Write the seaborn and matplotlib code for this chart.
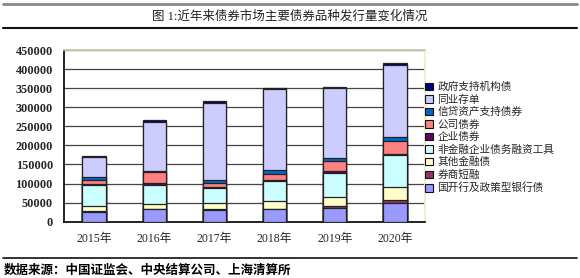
import pandas as pd
import matplotlib.pyplot as plt
import seaborn as sns
import numpy as np
from matplotlib.patches import Patch

years = ["2015年", "2016年", "2017年", "2018年", "2019年", "2020年"]

# bottom to top stacking order
series_names = ["国开行及政策型银行债", "券商短融", "其他金融债", "非金融企业债务融资工具",
                "企业债券", "公司债券", "信贷资产支持债券", "同业存单", "政府支持机构债"]
gkh = [25000, 32500, 30000, 32500, 35000, 48000]
qsdr = [3000, 1500, 2000, 1500, 5000, 10000]
qtjr = [14000, 12000, 16000, 19000, 26000, 33000]
fjr = [54000, 49000, 40000, 55000, 62000, 83000]
qyzq = [3500, 6000, 3500, 2500, 4000, 4500]
gszq = [10000, 28000, 10000, 15000, 26000, 33000]
xdzc = [8000, 4000, 8000, 10000, 10000, 10000]
tycd = [52000, 129000, 202000, 212000, 182000, 190000]
zfzc = [2500, 4500, 4500, 2500, 3500, 5000]
colors = ["#9999FF", "#993366", "#FFFFCC", "#CCFFFF", "#660066",
          "#FF8080", "#0066CC", "#CCCCFF", "#000080"]

values = [gkh, qsdr, qtjr, fjr, qyzq, gszq, xdzc, tycd, zfzc]
df = pd.DataFrame(dict(zip(series_names, values)), index=years)
cum = df.cumsum(axis=1)

sns.set_style("white")
plt.rcParams['font.family'] = ['Liberation Serif', 'Noto Sans CJK SC', 'DejaVu Sans']

fig = plt.figure(figsize=(5.8, 2.78), dpi=100)
ax = fig.add_axes([0.1103, 0.2025, 0.6225, 0.6175])

# stacked bars: draw cumulative totals from the top layer down
for name, color in reversed(list(zip(series_names, colors))):
    sns.barplot(x=years, y=cum[name].values, color=color, ax=ax, width=0.39,
                edgecolor="#222222", linewidth=0.9, saturation=1, zorder=3)

ax.set_xlim(-0.5, 5.5)
ax.set_ylim(0, 450000)
ax.set_yticks(np.arange(0, 450001, 50000))
ax.set_yticklabels([str(v) for v in range(0, 450001, 50000)],
                   fontsize=8.8, fontweight="bold", family="Liberation Serif")
ax.set_xticks(range(6))
ax.set_xticklabels(years, fontsize=8.5, family=['Liberation Serif', 'Noto Sans CJK SC'])
ax.set_xticks(np.arange(-0.5, 6, 1), minor=True)
ax.tick_params(axis="x", which="major", length=0, pad=8)
ax.tick_params(axis="x", which="minor", length=4, direction="out", width=1, color="black")
ax.tick_params(axis="y", length=0, pad=8)
ax.grid(axis="y", color="#444444", linewidth=0.9, zorder=0)
ax.set_axisbelow(True)
ax.spines["left"].set_color("black")
ax.spines["bottom"].set_color("black")
ax.spines["left"].set_linewidth(1.2)
ax.spines["bottom"].set_linewidth(1.2)
ax.spines["top"].set_color("#CFCBAE")
ax.spines["top"].set_linewidth(1.3)
ax.spines["right"].set_color("#EEEEC4")
ax.spines["right"].set_linewidth(1.3)
ax.set_xlabel("")
ax.set_ylabel("")

handles = [Patch(facecolor=c, edgecolor="#111111", linewidth=0.8, label=n)
           for n, c in zip(series_names, colors)][::-1]
leg = fig.legend(handles=handles, loc="upper left", bbox_to_anchor=(0.733, 0.705),
                 frameon=False, prop={"family": "Noto Sans CJK SC", "size": 7.7},
                 handlelength=0.75, handleheight=0.75, handletextpad=0.4,
                 labelspacing=0.22, borderaxespad=0, borderpad=0)

# header / footer lines and texts
fig.add_artist(plt.Line2D([0.005, 0.995], [0.984, 0.984], color="#888888", linewidth=2))
fig.add_artist(plt.Line2D([0.005, 0.995], [0.899, 0.899], color="#111111", linewidth=1.5))
fig.add_artist(plt.Line2D([0.005, 0.995], [0.073, 0.073], color="#111111", linewidth=1.2))
fig.text(0.5, 0.942, "图 1:近年来债券市场主要债券品种发行量变化情况", ha="center", va="center",
         fontsize=9, color="#222222", family=['Liberation Serif', 'Noto Sans CJK SC'])
fig.text(0.006, 0.028, "数据来源：中国证监会、中央结算公司、上海清算所", ha="left", va="center",
         fontsize=9, fontweight="bold", color="black", family="Noto Sans CJK SC")

fig.savefig("out.png", dpi=100)
